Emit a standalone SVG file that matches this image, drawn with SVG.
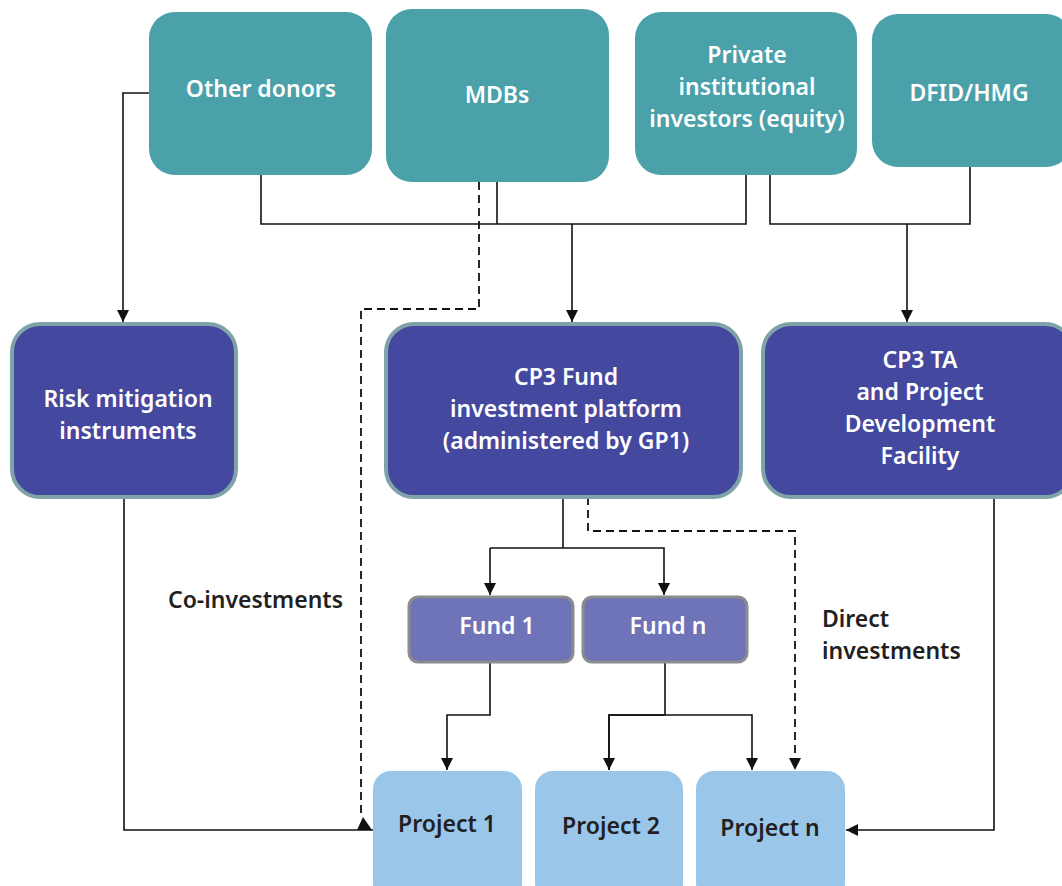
<svg xmlns="http://www.w3.org/2000/svg" width="1062" height="886" viewBox="0 0 1062 886">
<defs>
<marker id="arr" markerUnits="userSpaceOnUse" markerWidth="12" markerHeight="12" refX="12" refY="6" orient="auto">
<path d="M0,0 L12,6 L0,12 z" fill="#111"/>
</marker>
<style>
.top{fill:#4AA1AA}
.mid{fill:#44489E;stroke:#7FA3A8;stroke-width:4}
.fund{fill:#6F73B7;stroke:#8C8C8C;stroke-width:3}
.proj{fill:#9AC7E9}
text{font-family:"Noto Sans","Open Sans","DejaVu Sans",sans-serif;font-weight:600;font-size:23px;text-anchor:middle}
.w{fill:#ffffff}
.d{fill:#231F20}
.l{text-anchor:start}
.ln{fill:none;stroke:#111;stroke-width:1.6}
.ds{fill:none;stroke:#111;stroke-width:1.8;stroke-dasharray:8 5}
</style>
</defs>
<rect width="1062" height="886" fill="#ffffff"/>

<g id="connectors">
<polyline class="ln" points="261,175 261,224 746,224 746,175"/>
<line class="ln" x1="497" y1="182" x2="497" y2="224"/>
<line class="ln" x1="572" y1="224" x2="572" y2="322" marker-end="url(#arr)"/>
<polyline class="ln" points="770,175 770,224 970,224 970,167"/>
<line class="ln" x1="907" y1="224" x2="907" y2="322" marker-end="url(#arr)"/>
<polyline class="ln" points="150,93 123,93 123,322" marker-end="url(#arr)"/>
<polyline class="ds" points="479,182 479,309 361,309 361,818"/>
<polygon points="357,830 363,817 372,830" fill="#111"/>
<polyline class="ln" points="124,498 124,830 373,830"/>
<line class="ln" x1="563" y1="497" x2="563" y2="548"/>
<polyline class="ln" points="490,548 490,595" marker-end="url(#arr)"/>
<polyline class="ln" points="490,548 664,548 664,595" marker-end="url(#arr)"/>
<polyline class="ds" points="588,497 588,531 795,531 795,770" marker-end="url(#arr)"/>
<polyline class="ln" points="490,662 490,715 447,715 447,770" marker-end="url(#arr)"/>
<line class="ln" x1="665" y1="662" x2="665" y2="715"/>
<polyline class="ln" points="609,770 609,715 752,715 752,770" marker-end="url(#arr)"/>
<polyline class="ln" points="665,715 609,715 609,770" marker-end="url(#arr)"/>
<polyline class="ln" points="994,498 994,830 846,830" marker-end="url(#arr)"/>
</g>

<g id="other-donors">
<rect class="top" x="149" y="12" width="223" height="163" rx="26"/>
<text class="w" x="261" y="97">Other donors</text>
</g>
<g id="mdbs">
<rect class="top" x="386" y="9" width="223" height="173" rx="26"/>
<text class="w" x="497" y="103">MDBs</text>
</g>
<g id="private-investors">
<rect class="top" x="635" y="12" width="222" height="163" rx="26"/>
<text class="w" x="747" y="63">Private</text>
<text class="w" x="747" y="95">institutional</text>
<text class="w" x="747" y="127">investors (equity)</text>
</g>
<g id="dfid-hmg">
<rect class="top" x="872" y="14" width="200" height="153" rx="26"/>
<text class="w" x="969" y="101">DFID/HMG</text>
</g>

<g id="risk-mitigation">
<rect class="mid" x="12" y="324" width="224" height="173" rx="28"/>
<text class="w" x="128" y="407">Risk mitigation</text>
<text class="w" x="128" y="439">instruments</text>
</g>
<g id="cp3-fund">
<rect class="mid" x="386" y="324" width="355" height="173" rx="28"/>
<text class="w" x="566" y="385">CP3 Fund</text>
<text class="w" x="566" y="417">investment platform</text>
<text class="w" x="566" y="449">(administered by GP1)</text>
</g>
<g id="cp3-ta">
<rect class="mid" x="763" y="324" width="310" height="173" rx="28"/>
<text class="w" x="920" y="368">CP3 TA</text>
<text class="w" x="920" y="400">and Project</text>
<text class="w" x="920" y="432">Development</text>
<text class="w" x="920" y="464">Facility</text>
</g>

<g id="fund-1">
<rect class="fund" x="409" y="597" width="164" height="65" rx="9"/>
<text class="w" x="497" y="634">Fund 1</text>
</g>
<g id="fund-n">
<rect class="fund" x="583" y="597" width="164" height="65" rx="9"/>
<text class="w" x="668" y="634">Fund n</text>
</g>

<g id="project-1">
<rect class="proj" x="373" y="771" width="149" height="130" rx="18"/>
<text class="d" x="447" y="832">Project 1</text>
</g>
<g id="project-2">
<rect class="proj" x="535" y="771" width="148" height="130" rx="18"/>
<text class="d" x="611" y="834">Project 2</text>
</g>
<g id="project-n">
<rect class="proj" x="696" y="771" width="149" height="130" rx="18"/>
<text class="d" x="770" y="836">Project n</text>
</g>

<g id="labels">
<text class="d l" x="168" y="608">Co-investments</text>
<text class="d l" x="822" y="627">Direct</text>
<text class="d l" x="822" y="659">investments</text>
</g>
</svg>
